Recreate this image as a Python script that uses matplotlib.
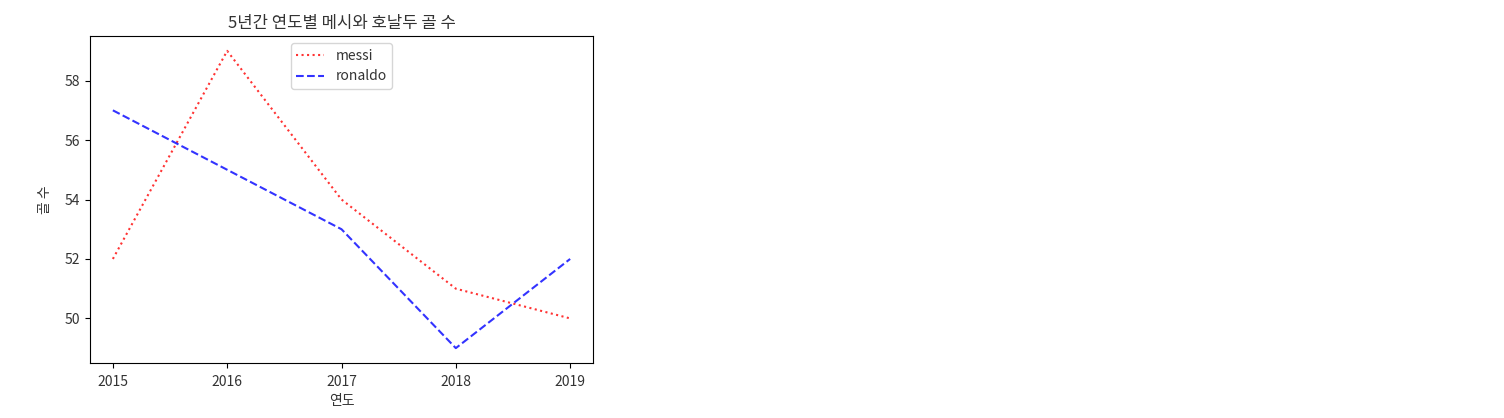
import matplotlib.pyplot as plt

plt.rcParams['font.family'] = ['Noto Sans CJK KR', 'DejaVu Sans']
plt.rcParams['axes.unicode_minus'] = False
plt.rcParams['text.color'] = '#333333'
plt.rcParams['axes.labelcolor'] = '#333333'
plt.rcParams['xtick.labelcolor'] = '#333333'
plt.rcParams['ytick.labelcolor'] = '#333333'

years = [2015, 2016, 2017, 2018, 2019]
messi = [52, 59, 54, 51, 50]
ronaldo = [57, 55, 53, 49, 52]

fig = plt.figure(figsize=(15.04, 4.18), dpi=100)
ax = fig.add_axes([90 / 1504, 55 / 418, 503 / 1504, 327 / 418])

ax.plot(years, messi, color='red', linestyle=':', alpha=0.8, label='messi')
ax.plot(years, ronaldo, color='blue', linestyle='--', alpha=0.8, label='ronaldo')
ax.set_xticks(years)
ax.tick_params(axis='x', pad=5)
ax.set_title('5년간 연도별 메시와 호날두 골 수')
ax.set_xlabel('연도', labelpad=4)
ax.set_ylabel('골 수', labelpad=9)
ax.legend(loc='upper center')

fig.savefig('out.png', dpi=100, facecolor='white')
